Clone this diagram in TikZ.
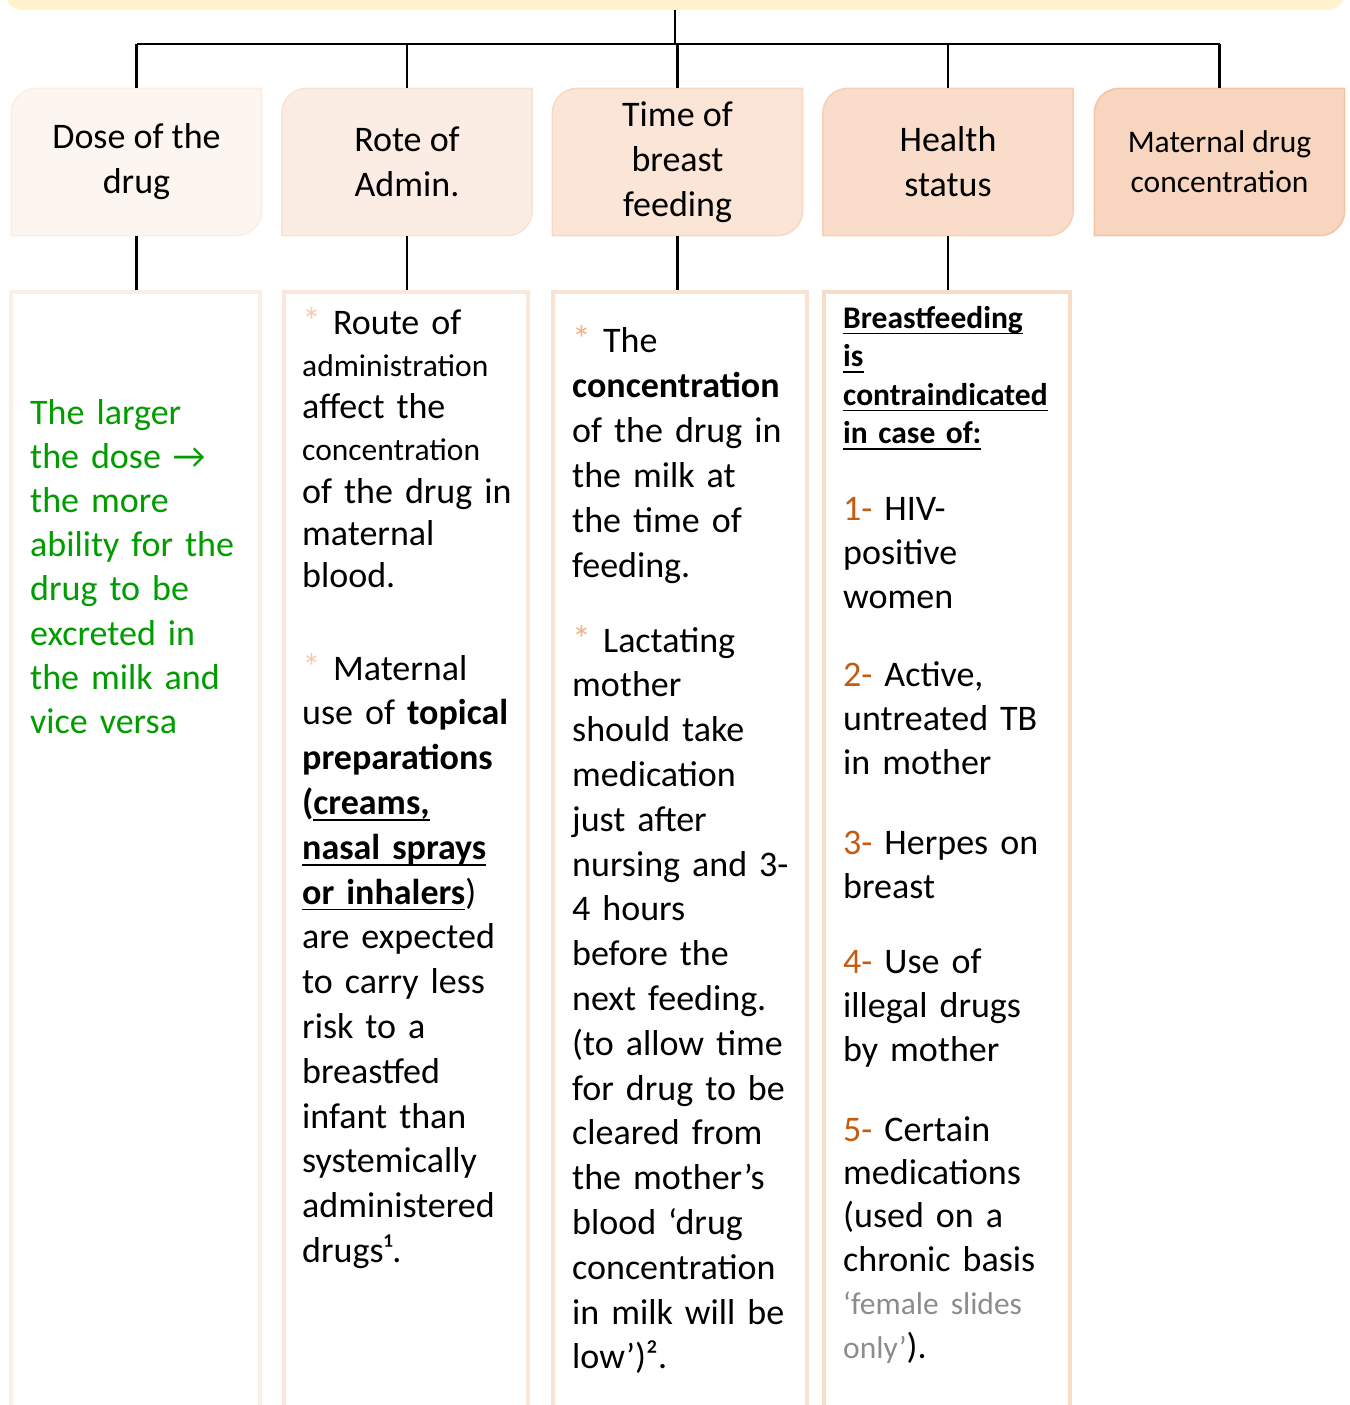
\documentclass[tikz,border=0pt]{standalone}
\usepackage{fontspec}
\setmainfont{Carlito}
\usetikzlibrary{calc}
\pgfdeclarelayer{bg}
\pgfsetlayers{bg,main}

\definecolor{topc}{HTML}{FFF2CC}
\definecolor{hf1}{HTML}{FCF5F0}\definecolor{hd1}{HTML}{FAEEE6}
\definecolor{hf2}{HTML}{FBEDE3}\definecolor{hd2}{HTML}{F9E2D3}
\definecolor{hf3}{HTML}{FAE5D7}\definecolor{hd3}{HTML}{F8D8C4}
\definecolor{hf4}{HTML}{F9DDCA}\definecolor{hd4}{HTML}{F6CFB5}
\definecolor{hf5}{HTML}{F8D5BE}\definecolor{hd5}{HTML}{F4C4A3}
\definecolor{cb1}{HTML}{FCEEE5}
\definecolor{cb2}{HTML}{FBE8DC}
\definecolor{cb3}{HTML}{FAE2D2}
\definecolor{cb4}{HTML}{F9DCC8}
\definecolor{greentxt}{HTML}{009C00}
\definecolor{numc}{HTML}{C55A11}
\definecolor{grayc}{HTML}{8C8C8C}
\definecolor{astL}{HTML}{F8CBAD}
\definecolor{astD}{HTML}{F4B183}

\newcommand\hdrshape[3]{%
\begin{pgfonlayer}{bg}
\filldraw[draw=#3, fill=#2, line width=1.5pt]
 (#1.south west) -- ($(#1.north west)+(0,25)$)
 .. controls ($(#1.north west)+(0,11.2)$) and ($(#1.north west)+(11.2,0)$) .. ($(#1.north west)+(25,0)$)
 -- (#1.north east) -- ($(#1.south east)+(0,-25)$)
 .. controls ($(#1.south east)+(0,-11.2)$) and ($(#1.south east)+(-11.2,0)$) .. ($(#1.south east)+(-25,0)$)
 -- cycle;
\end{pgfonlayer}}

\newcommand\uln[1]{\setbox0\hbox{#1}\leavevmode\rlap{\vrule height -4.5pt depth 6.3pt width \wd0}\box0}
\newcommand\astA{{\fontsize{38}{38}\selectfont\color{astL}*}}
\newcommand\astB{{\fontsize{38}{38}\selectfont\color{astD}*}}
\newcommand\smf{\fontsize{31.5}{42.3}\selectfont}
\newcommand\numc[1]{\textcolor{numc}{#1}}

\begin{document}
\begin{tikzpicture}[x=1pt, y=-1pt,
  hdr/.style={minimum width=250pt, minimum height=147pt, inner sep=0pt, align=center,
    font=\fontsize{36}{45}\selectfont},
  cbox/.style={draw, line width=4pt, minimum height=1250pt, anchor=north, inner sep=0pt},
  txt/.style={anchor=base west, inner sep=0pt, align=left, text width=300pt},
  conn/.style={draw=black, line width=2.2pt}]
\useasboundingbox (0,0) rectangle (1349,1405);
\clip (0,0) rectangle (1349,1405);

% top bar
\node[fill=topc, rounded corners=18pt, minimum width=1340pt, minimum height=60pt, inner sep=0pt] (top) at (675,-20) {};

% headers
\node[hdr] (h1) at (136.5,162) {Dose of the\\drug};
\node[hdr] (h2) at (407,162) {Rote of\\Admin.};
\node[hdr] (h3) at (677.5,162) {Time of\\breast\\feeding};
\node[hdr] (h4) at (948,162) {Health\\status};
\node[hdr, font=\fontsize{31.5}{40}\selectfont] (h5) at (1219.5,162) {Maternal drug\\concentration};
\hdrshape{h1}{hf1}{hd1}
\hdrshape{h2}{hf2}{hd2}
\hdrshape{h3}{hf3}{hd3}
\hdrshape{h4}{hf4}{hd4}
\hdrshape{h5}{hf5}{hd5}

% content boxes
\node[cbox, draw=cb1, minimum width=249pt] (b1) at (135.5,290) {};
\node[cbox, draw=cb2, minimum width=244pt] (b2) at (406,290) {};
\node[cbox, draw=cb3, minimum width=254pt] (b3) at (680,290) {};
\node[cbox, draw=cb4, minimum width=246pt] (b4) at (947,290) {};

% connectors
\coordinate (bus) at ($(top.south)+(0,34)$);
\draw[conn] (top.south) -- (bus);
\draw[conn] (h1.north |- bus) -- (h5.north |- bus);
\foreach \i in {1,...,5} {\draw[conn] (h\i.north |- bus) -- (h\i.north);}
\foreach \i in {1,...,4} {\draw[conn] (h\i.south) -- (h\i.south |- b\i.north);}

% column 1
\node[txt, text=greentxt, font=\fontsize{36}{44.2}\selectfont] (c1) at (30,424)
 {The larger\\the dose →\\the more\\ability for the\\drug to be\\excreted in\\the milk and\\vice versa};

% column 2
\node[txt, font=\fontsize{36}{42.3}\selectfont] (c2a) at (302,334)
 {\astA\ Route of\\{\smf administration}\\affect the\\{\smf concentration}\\of the drug in\\maternal\\blood.};
\node[txt, font=\fontsize{36}{44.8}\selectfont] (c2b) at (302,680)
 {\astA\ Maternal\\use of \textbf{topical}\\\textbf{preparations}\\\textbf{(\uln{creams,}}\\\textbf{\uln{nasal sprays}}\\\textbf{\uln{or inhalers}})\\are expected\\to carry less\\risk to a\\breastfed\\infant than\\systemically\\administered\\drugs¹.};

% column 3
\node[txt, font=\fontsize{36}{45}\selectfont] (c3a) at (572,352)
 {\astB\ The\\\textbf{concentration}\\of the drug in\\the milk at\\the time of\\feeding.};
\node[txt, font=\fontsize{36}{44.8}\selectfont] (c3b) at (572,652)
 {\astB\ Lactating\\mother\\should take\\medication\\just after\\nursing and 3-\\4 hours\\before the\\next feeding.\\(to allow time\\for drug to be\\cleared from\\the mother’s\\blood ‘drug\\concentration\\in milk will be\\low’)².};

% column 4
\node[txt, font=\fontsize{31.5}{38.5}\selectfont\bfseries] (c4h) at (843,328)
 {\uln{Breastfeeding}\\\uln{is}\\\uln{contraindicated}\\\uln{in case of:}};
\node[txt, font=\fontsize{36}{44.3}\selectfont] (i1) at (843,520) {\numc{1-} HIV-\\positive\\women};
\node[txt, font=\fontsize{36}{44.3}\selectfont] (i2) at (843,686) {\numc{2-} Active,\\untreated TB\\in mother};
\node[txt, font=\fontsize{36}{44.3}\selectfont] (i3) at (843,854) {\numc{3-} Herpes on\\breast};
\node[txt, font=\fontsize{36}{44.3}\selectfont] (i4) at (843,973) {\numc{4-} Use of\\illegal drugs\\by mother};
\node[txt, font=\fontsize{36}{43.4}\selectfont] (i5) at (843,1141)
 {\numc{5-} Certain\\medications\\(used on a\\chronic basis\\{\color{grayc}\fontsize{31.5}{43.4}\selectfont ‘female slides}\\{\color{grayc}\fontsize{31.5}{43.4}\selectfont only’}).};
\end{tikzpicture}
\end{document}
